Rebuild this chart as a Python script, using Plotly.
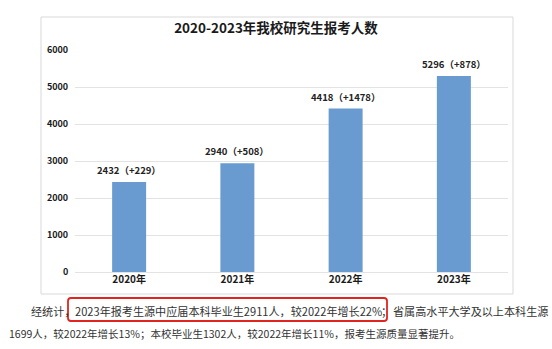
import plotly.graph_objects as go

years = ["2020年", "2021年", "2022年", "2023年"]
applicants = [2432, 2940, 4418, 5296]
increase = [229, 508, 1478, 878]
y_ticks = [0, 1000, 2000, 3000, 4000, 5000, 6000]

title_text = "2020-2023年我校研究生报考人数"
note_lead = "经统计，"
note_boxed = "2023年报考生源中应届本科毕业生2911人，较2022年增长22%"
note_semicolon = "；"
note_tail = "省属高水平大学及以上本科生源"
note_line2 = "1699人，较2022年增长13%；本校毕业生1302人，较2022年增长11%，报考生源质量显著提升。"

FONT = "Noto Sans CJK SC"
W, H = 552, 349
L, R, T, B = 75, 508, 50, 272  # plot area in pixels


def px(xp):
    return (xp - L) / (R - L)


def py(yp):
    return (B - yp) / (B - T)


labels = [f"{v}（+{d}）" for v, d in zip(applicants, increase)]

fig = go.Figure()
fig.add_bar(
    x=years,
    y=applicants,
    marker=dict(color="#6A9BD0", line=dict(width=0)),
    hoverinfo="skip",
)

shapes = [
    dict(type="rect", xref="paper", yref="paper",
         x0=px(41), x1=px(513), y0=py(294), y1=py(17),
         line=dict(color="#D9D9D9", width=1), fillcolor="rgba(0,0,0,0)", layer="below"),
]

# rounded red highlight box
x0, x1, y0, y1 = px(68), px(387), py(321), py(298)
rx, ry = 3 / (R - L), 3 / (B - T)
path = (f"M {x0+rx},{y1} L {x1-rx},{y1} Q {x1},{y1} {x1},{y1-ry} "
        f"L {x1},{y0+ry} Q {x1},{y0} {x1-rx},{y0} "
        f"L {x0+rx},{y0} Q {x0},{y0} {x0},{y0+ry} "
        f"L {x0},{y1-ry} Q {x0},{y1} {x0+rx},{y1} Z")
shapes.append(dict(type="path", xref="paper", yref="paper", path=path,
                   line=dict(color="#E0241F", width=1.8)))


def note(text, x, y, size):
    return dict(text=text, xref="paper", yref="paper", x=px(x), y=py(y),
                xanchor="left", yanchor="middle", showarrow=False,
                font=dict(family=FONT, size=size, color="#333333"))


annotations = [
    dict(text=lab, x=yr, y=val, xref="x", yref="y", xanchor="center", yanchor="middle",
         yshift=12, showarrow=False,
         font=dict(family=FONT, size=9.5, color="#222222", weight="bold"))
    for yr, val, lab in zip(years, applicants, labels)
] + [
    note(note_lead, 29, 311, 11.1),
    note(note_boxed, 73, 311, 11.1),
    note(note_semicolon, 379, 311, 11.1),
    note(note_tail, 391, 311, 11.1),
    note(note_line2, 7, 333, 10.5),
]

fig.update_layout(
    width=W, height=H,
    margin=dict(l=L, r=W - R, t=T, b=H - B, pad=0),
    paper_bgcolor="white", plot_bgcolor="white",
    title=dict(text=title_text, x=0.5, xanchor="center", y=1 - 28 / H, yanchor="middle",
               font=dict(family=FONT, size=13.5, color="#1A1A1A", weight="bold")),
    bargap=0.686,
    showlegend=False,
    shapes=shapes,
    annotations=annotations,
)
fig.update_xaxes(
    type="category", showline=False, showgrid=False, ticks="",
    tickfont=dict(family=FONT, size=10, color="#1A1A1A", weight="bold"),
)
fig.update_yaxes(
    range=[0, 6000], tickvals=y_ticks, showline=False,
    showgrid=True, gridcolor="#E3E3E3", gridwidth=1,
    zeroline=True, zerolinecolor="#E3E3E3", zerolinewidth=1,
    ticks="outside", ticklen=4, tickcolor="rgba(0,0,0,0)",
    tickfont=dict(family=FONT, size=9, color="#1A1A1A", weight="bold"),
)

fig.write_html("out.html")
